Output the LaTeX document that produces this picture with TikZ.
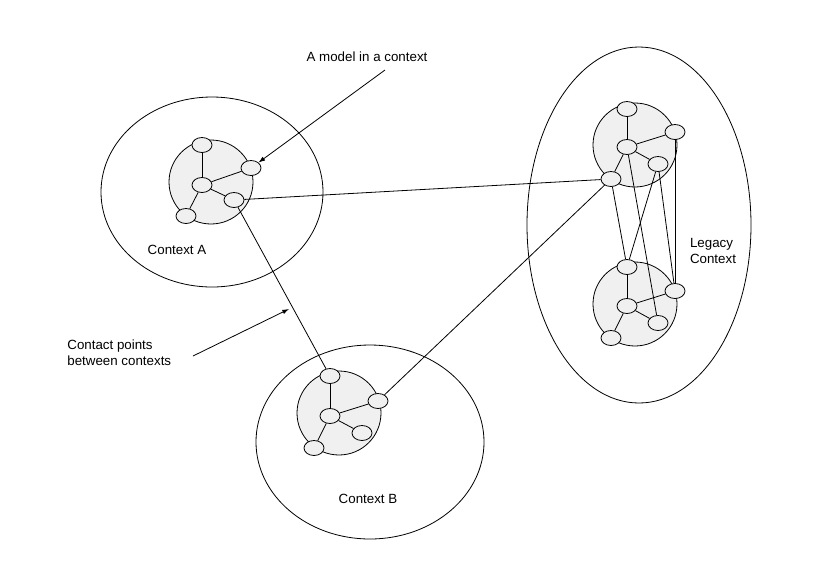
\documentclass[tikz,border=0pt]{standalone}
\usepackage{fontspec}
\setmainfont{Liberation Sans}
\usetikzlibrary{shapes.geometric,arrows.meta}

\begin{document}
\begin{tikzpicture}[x=0.75pt, y=-0.75pt, line width=0.6pt,
    context/.style={draw, ellipse, inner sep=0pt},
    model/.style={draw, circle, fill=gray!12, minimum size=63pt, inner sep=0pt},
    obj/.style={draw, ellipse, fill=gray!12, minimum width=15pt, minimum height=11.25pt, inner sep=0pt},
    lbl/.style={font=\fontsize{10}{12}\selectfont, align=left, inner sep=0pt}]
    \useasboundingbox (0,0) rectangle (836,562);
    % contexts
    \node[context, minimum width=166.5pt, minimum height=142.5pt] (ctxA) at (212,192) {};
    \node[context, minimum width=171pt, minimum height=145.5pt] (ctxB) at (370,442) {};
    \node[context, minimum width=168pt, minimum height=267pt] (ctxL) at (639,225) {};
    \node[lbl] (labA) at (177,250) {Context A};
    \node[lbl] (labB) at (368,499) {Context B};
    \node[lbl] (labL) at (713,251) {Legacy\\Context};
    % models
    \node[model] (mA) at (211,182) {};
    \node[model] (mB) at (339,413) {};
    \node[model] (mL1) at (635,145) {};
    \node[model] (mL2) at (635,304) {};
    % model in context A
    \node[obj] (a1) at (202,145) {};
    \node[obj] (a2) at (251,168) {};
    \node[obj] (a3) at (202,185) {};
    \node[obj] (a4) at (234,200) {};
    \node[obj] (a5) at (186,216) {};
    % model in context B
    \node[obj] (b1) at (330,376) {};
    \node[obj] (b2) at (378,401) {};
    \node[obj] (b3) at (330,416) {};
    \node[obj] (b4) at (362,433) {};
    \node[obj] (b5) at (314,448) {};
    % legacy models
    \node[obj] (p1) at (627,109) {};
    \node[obj] (p2) at (675,132) {};
    \node[obj] (p3) at (627,147) {};
    \node[obj] (p4) at (658,164) {};
    \node[obj] (p5) at (611,179) {};
    \node[obj] (q1) at (627,267) {};
    \node[obj] (q2) at (675,291) {};
    \node[obj] (q3) at (627,306) {};
    \node[obj] (q4) at (658,323) {};
    \node[obj] (q5) at (611,338) {};
    % inner links
    \draw (a3) -- (a1);
    \draw (a3) -- (a2);
    \draw (a3) -- (a4);
    \draw (a3) -- (a5);
    \draw (b3) -- (b1);
    \draw (b3) -- (b2);
    \draw (b3) -- (b4);
    \draw (b3) -- (b5);
    \draw (p3) -- (p1);
    \draw (p3) -- (p2);
    \draw (p3) -- (p4);
    \draw (p3) -- (p5);
    \draw (q3) -- (q1);
    \draw (q3) -- (q2);
    \draw (q3) -- (q4);
    \draw (q3) -- (q5);
    % legacy cross links
    \draw (p5) -- (q1);
    \draw (p4) -- (q1);
    \draw (p3) -- (q4);
    \draw (p4) -- (q2);
    \draw (p2) -- (q2);
    % contact points
    \draw (a4) -- (p5);
    \draw (a4) -- (b1);
    \draw (b2) -- (p5);
    % annotations
    \node[lbl] (note1) at (367,57) {A model in a context};
    \node[lbl, anchor=west] (note2) at (67,353) {Contact points\\between contexts};
    \coordinate (n1) at (385,70);
    \coordinate (n2) at (193,356);
    \coordinate (t2) at (289,309);
    \draw[-{Latex[length=5pt,width=3.5pt]}] (n1) -- (a2);
    \draw[-{Latex[length=5pt,width=3.5pt]}] (n2) -- (t2);
\end{tikzpicture}
\end{document}
